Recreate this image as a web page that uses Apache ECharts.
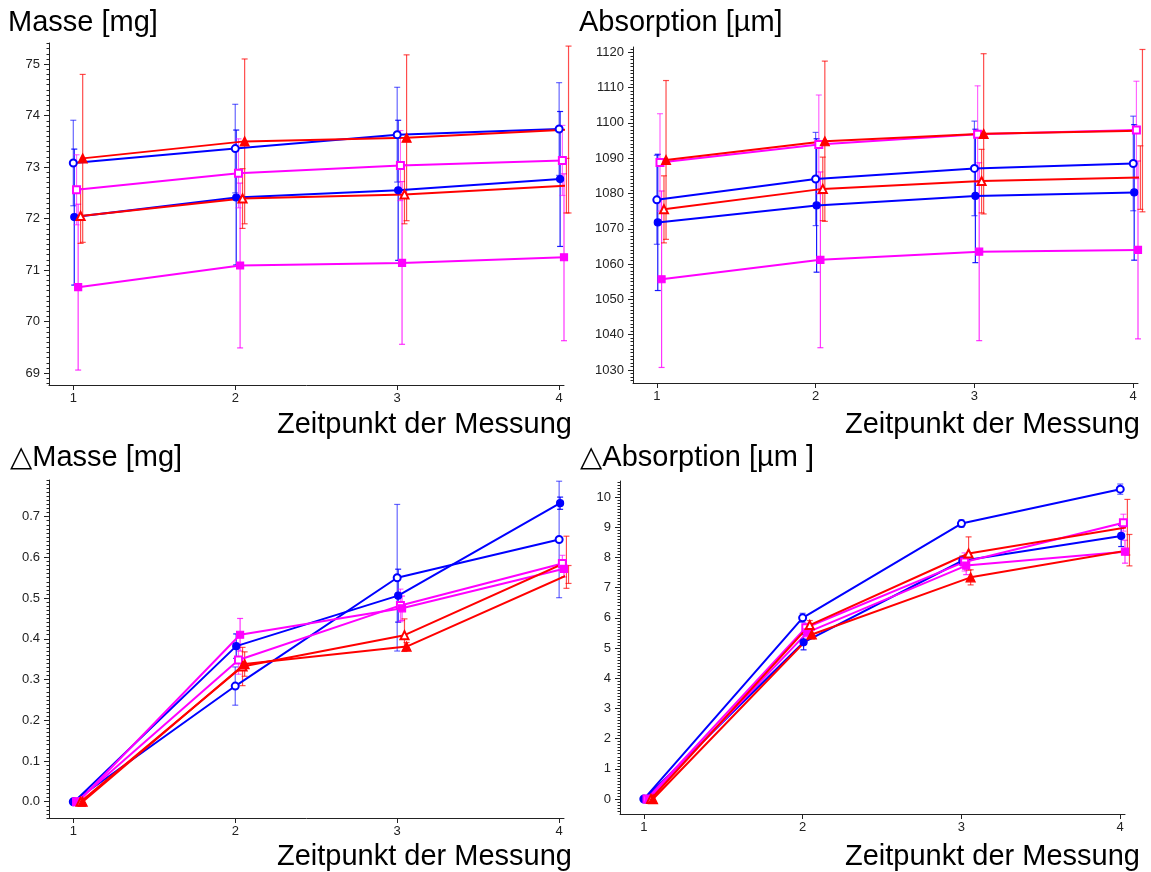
<!DOCTYPE html>
<html>
<head>
<meta charset="utf-8">
<title>Masse / Absorption</title>
<script src="https://cdn.jsdelivr.net/npm/echarts@6/dist/echarts.min.js"></script>
<style>
  html, body { margin: 0; padding: 0; background: #fff; }
  #chart { width: 1151px; height: 872px; }
</style>
</head>
<body>
<div id="chart"></div>
<script>
  // Messzeitpunkte
  const timepoints = [1, 2, 3, 4]

  // Masse [mg] – Mittelwert / Standardabweichung
  const masseBlueOpen = [73.08, 73.36, 73.63, 73.74]
  const masseBlueOpenSd = [0.83, 0.86, 0.92, 0.9]
  const masseBlueFilled = [72.03, 72.41, 72.55, 72.77]
  const masseBlueFilledSd = [1.32, 1.31, 1.36, 1.31]
  const masseMagentaOpen = [72.56, 72.88, 73.03, 73.13]
  const masseMagentaOpenSd = [0.68, 0.67, 0.68, 0.68]
  const masseMagentaFilled = [70.67, 71.09, 71.14, 71.25]
  const masseMagentaFilledSd = [1.61, 1.6, 1.58, 1.62]
  const masseRedOpen = [72.05, 72.39, 72.47, 72.64]
  const masseRedOpenSd = [0.53, 0.58, 0.57, 0.53]
  const masseRedFilled = [73.17, 73.5, 73.57, 73.73]
  const masseRedFilledSd = [1.63, 1.6, 1.61, 1.62]

  // Absorption [µm]
  const absBlueOpen = [1078.2, 1084.1, 1087.1, 1088.5]
  const absBlueOpenSd = [12.6, 13.2, 13.4, 13.4]
  const absBlueFilled = [1071.8, 1076.6, 1079.3, 1080.3]
  const absBlueFilledSd = [19.3, 18.9, 18.9, 19.2]
  const absMagentaOpen = [1088.8, 1093.9, 1096.8, 1098.0]
  const absMagentaOpenSd = [13.8, 14.0, 13.7, 13.8]
  const absMagentaFilled = [1055.7, 1061.2, 1063.5, 1064.0]
  const absMagentaFilledSd = [25.0, 24.9, 25.2, 25.2]
  const absRedOpen = [1075.5, 1081.3, 1083.5, 1084.5]
  const absRedOpenSd = [9.5, 9.0, 9.0, 9.0]
  const absRedFilled = [1089.5, 1094.8, 1096.9, 1097.8]
  const absRedFilledSd = [22.5, 22.7, 22.7, 23.0]

  // ΔMasse [mg]
  const dMasseBlueOpen = [0, 0.284, 0.55, 0.644]
  const dMasseBlueOpenSd = [0, 0.047, 0.18, 0.143]
  const dMasseBlueFilled = [0, 0.382, 0.506, 0.733]
  const dMasseBlueFilledSd = [0, 0.03, 0.065, 0.015]
  const dMasseMagentaOpen = [0, 0.348, 0.482, 0.585]
  const dMasseMagentaOpenSd = [0, 0.035, 0.04, 0.02]
  const dMasseMagentaFilled = [0, 0.41, 0.475, 0.572]
  const dMasseMagentaFilledSd = [0, 0.04, 0.03, 0.02]
  const dMasseRedOpen = [0, 0.332, 0.409, 0.588]
  const dMasseRedOpenSd = [0, 0.047, 0.04, 0.064]
  const dMasseRedFilled = [0, 0.338, 0.381, 0.558]
  const dMasseRedFilledSd = [0, 0.03, 0.01, 0.022]

  // ΔAbsorption [µm]
  const dAbsBlueOpen = [0, 6.0, 9.12, 10.26]
  const dAbsBlueOpenSd = [0.05, 0.15, 0.12, 0.17]
  const dAbsBlueFilled = [0, 5.19, 7.89, 8.71]
  const dAbsBlueFilledSd = [0, 0.25, 0.15, 0.35]
  const dAbsMagentaOpen = [0, 5.67, 7.85, 9.15]
  const dAbsMagentaOpenSd = [0, 0.15, 0.3, 0.28]
  const dAbsMagentaFilled = [0, 5.52, 7.73, 8.19]
  const dAbsMagentaFilledSd = [0, 0.15, 0.3, 0.38]
  const dAbsRedOpen = [0, 5.76, 8.13, 9.0]
  const dAbsRedOpenSd = [0, 0.15, 0.55, 0.92]
  const dAbsRedFilled = [0, 5.45, 7.34, 8.24]
  const dAbsRedFilledSd = [0, 0.15, 0.25, 0.52]

  // Achsenbeschriftungen
  const masseTicks = [69, 70, 71, 72, 73, 74, 75]
  const absTicks = [1030, 1040, 1050, 1060, 1070, 1080, 1090, 1100, 1110, 1120]
  const dMasseTicks = [0, 0.1, 0.2, 0.3, 0.4, 0.5, 0.6, 0.7]
  const dAbsTicks = [0, 1, 2, 3, 4, 5, 6, 7, 8, 9, 10]

  const FONT = '"Liberation Sans", Arial, "DejaVu Sans", sans-serif'
  const AXIS_COLOR = '#222'

  // Gruppen (Reihenfolge = Zeichenreihenfolge), dx = kleiner Versatz auf der x-Achse
  const groups = [
    { name: 'blau offen', color: '#0000ff', symbol: 'emptyCircle', size: 7, dx: 0, barOpacity: 0.6 },
    { name: 'blau gefüllt', color: '#0000ff', symbol: 'circle', size: 7, dx: 0.006, barOpacity: 0.9 },
    { name: 'magenta offen', color: '#ff00ff', symbol: 'emptyRect', size: 7, dx: 0.02, barOpacity: 0.6 },
    { name: 'magenta gefüllt', color: '#ff00ff', symbol: 'rect', size: 7, dx: 0.03, barOpacity: 0.8 },
    { name: 'rot offen', color: '#ff0000', symbol: 'emptyTriangle', size: 8, dx: 0.045, barOpacity: 0.7 },
    { name: 'rot gefüllt', color: '#ff0000', symbol: 'triangle', size: 9, dx: 0.058, barOpacity: 0.7 },
  ]

  const panels = [
    {
      title: 'Masse [mg]', titlePos: [8, 23], namePos: [572, 425],
      grid: { left: 49, top: 43, width: 515, height: 342 },
      yMin: 68.77, yMax: 75.41, ticks: masseTicks, minorStep: 0.1, decimals: 0,
      means: [masseBlueOpen, masseBlueFilled, masseMagentaOpen, masseMagentaFilled, masseRedOpen, masseRedFilled],
      sds: [masseBlueOpenSd, masseBlueFilledSd, masseMagentaOpenSd, masseMagentaFilledSd, masseRedOpenSd, masseRedFilledSd],
    },
    {
      title: 'Absorption [µm]', titlePos: [579, 23], namePos: [1140, 425],
      grid: { left: 633, top: 47, width: 505, height: 336 },
      yMin: 1026.3, yMax: 1121.5, ticks: absTicks, minorStep: 1, decimals: 0,
      means: [absBlueOpen, absBlueFilled, absMagentaOpen, absMagentaFilled, absRedOpen, absRedFilled],
      sds: [absBlueOpenSd, absBlueFilledSd, absMagentaOpenSd, absMagentaFilledSd, absRedOpenSd, absRedFilledSd],
    },
    {
      title: '△Masse [mg]', titlePos: [10, 458], namePos: [572, 857],
      grid: { left: 49, top: 480, width: 515, height: 338 },
      yMin: -0.04, yMax: 0.79, ticks: dMasseTicks, minorStep: 0.01, decimals: 1,
      means: [dMasseBlueOpen, dMasseBlueFilled, dMasseMagentaOpen, dMasseMagentaFilled, dMasseRedOpen, dMasseRedFilled],
      sds: [dMasseBlueOpenSd, dMasseBlueFilledSd, dMasseMagentaOpenSd, dMasseMagentaFilledSd, dMasseRedOpenSd, dMasseRedFilledSd],
    },
    {
      title: '△Absorption [µm ]', titlePos: [580, 458], namePos: [1140, 857],
      grid: { left: 620, top: 481, width: 505, height: 333 },
      yMin: -0.495, yMax: 10.53, ticks: dAbsTicks, minorStep: 0.1, decimals: 0,
      means: [dAbsBlueOpen, dAbsBlueFilled, dAbsMagentaOpen, dAbsMagentaFilled, dAbsRedOpen, dAbsRedFilled],
      sds: [dAbsBlueOpenSd, dAbsBlueFilledSd, dAbsMagentaOpenSd, dAbsMagentaFilledSd, dAbsRedOpenSd, dAbsRedFilledSd],
    },
  ]

  // Positionen der kleinen Teilstriche
  function minorTicks(min, max, step) {
    const out = []
    for (let i = Math.ceil(min / step - 1e-9); i * step <= max + 1e-9; i++) {
      out.push(+(i * step).toFixed(6))
    }
    return out
  }

  // Fehlerbalken als custom series
  function errorBarRenderer(color, opacity) {
    return (params, api) => {
      const lo = api.value(1)
      const hi = api.value(2)
      if (hi - lo <= 0) return null
      const top = api.coord([api.value(0), hi])
      const bottom = api.coord([api.value(0), lo])
      const w = 3
      const style = { stroke: color, lineWidth: 1.2, opacity: opacity }
      return {
        type: 'group',
        children: [
          { type: 'line', shape: { x1: top[0], y1: top[1], x2: bottom[0], y2: bottom[1] }, style },
          { type: 'line', shape: { x1: top[0] - w, y1: top[1], x2: top[0] + w, y2: top[1] }, style },
          { type: 'line', shape: { x1: bottom[0] - w, y1: bottom[1], x2: bottom[0] + w, y2: bottom[1] }, style },
        ],
      }
    }
  }

  const grid = []
  const xAxis = []
  const yAxis = []
  const series = []
  const graphic = []

  panels.forEach((p, pi) => {
    grid.push(p.grid)

    xAxis.push({
      gridIndex: pi,
      type: 'value',
      min: 0.85,
      max: 4.03,
      axisLine: { show: true, onZero: false, lineStyle: { color: AXIS_COLOR, width: 1 } },
      axisTick: { show: true, length: 5, customValues: timepoints, lineStyle: { color: AXIS_COLOR } },
      axisLabel: { customValues: timepoints, color: AXIS_COLOR, fontSize: 13, fontFamily: FONT, margin: 7 },
      splitLine: { show: false },
    })

    // Hauptachse mit Beschriftung
    yAxis.push({
      gridIndex: pi,
      type: 'value',
      min: p.yMin,
      max: p.yMax,
      axisLine: { show: true, onZero: false, lineStyle: { color: AXIS_COLOR, width: 1 } },
      axisTick: { show: true, length: 5, customValues: p.ticks, lineStyle: { color: AXIS_COLOR } },
      axisLabel: {
        customValues: p.ticks,
        color: AXIS_COLOR,
        fontSize: 13,
        fontFamily: FONT,
        margin: 9,
        formatter: (v) => v.toFixed(p.decimals),
      },
      splitLine: { show: false },
    })
    // zweite Achse nur für die kleinen Teilstriche
    yAxis.push({
      gridIndex: pi,
      type: 'value',
      position: 'left',
      min: p.yMin,
      max: p.yMax,
      axisLine: { show: false, onZero: false },
      axisTick: { show: true, length: 2.5, customValues: minorTicks(p.yMin, p.yMax, p.minorStep), lineStyle: { color: AXIS_COLOR } },
      axisLabel: { show: false },
      splitLine: { show: false },
    })

    groups.forEach((g, gi) => {
      const mean = p.means[gi]
      const sd = p.sds[gi]
      series.push({
        name: g.name,
        type: 'custom',
        xAxisIndex: pi,
        yAxisIndex: pi * 2,
        z: 3,
        renderItem: errorBarRenderer(g.color, g.barOpacity),
        encode: { x: 0, y: [1, 2] },
        data: timepoints.map((t, i) => [t + g.dx, mean[i] - sd[i], mean[i] + sd[i]]),
      })
      series.push({
        name: g.name,
        type: 'line',
        xAxisIndex: pi,
        yAxisIndex: pi * 2,
        z: 4,
        symbol: g.symbol,
        symbolSize: g.size,
        showAllSymbol: true,
        lineStyle: { color: g.color, width: 2 },
        itemStyle: { color: g.color, borderColor: g.color, borderWidth: 1.2 },
        data: timepoints.map((t, i) => [t + g.dx, mean[i]]),
      })
    })

    graphic.push({
      type: 'text',
      x: p.titlePos[0],
      y: p.titlePos[1],
      style: { text: p.title, fill: '#000', fontSize: 29, fontFamily: FONT, align: 'left', verticalAlign: 'middle' },
    })
    graphic.push({
      type: 'text',
      x: p.namePos[0],
      y: p.namePos[1],
      style: { text: 'Zeitpunkt der Messung', fill: '#000', fontSize: 29, fontFamily: FONT, align: 'right', verticalAlign: 'middle' },
    })
  })

  const myChart = echarts.init(document.getElementById('chart'))
  myChart.setOption({
    animation: false,
    backgroundColor: '#fff',
    grid,
    xAxis,
    yAxis,
    series,
    graphic,
  })
</script>
</body>
</html>
